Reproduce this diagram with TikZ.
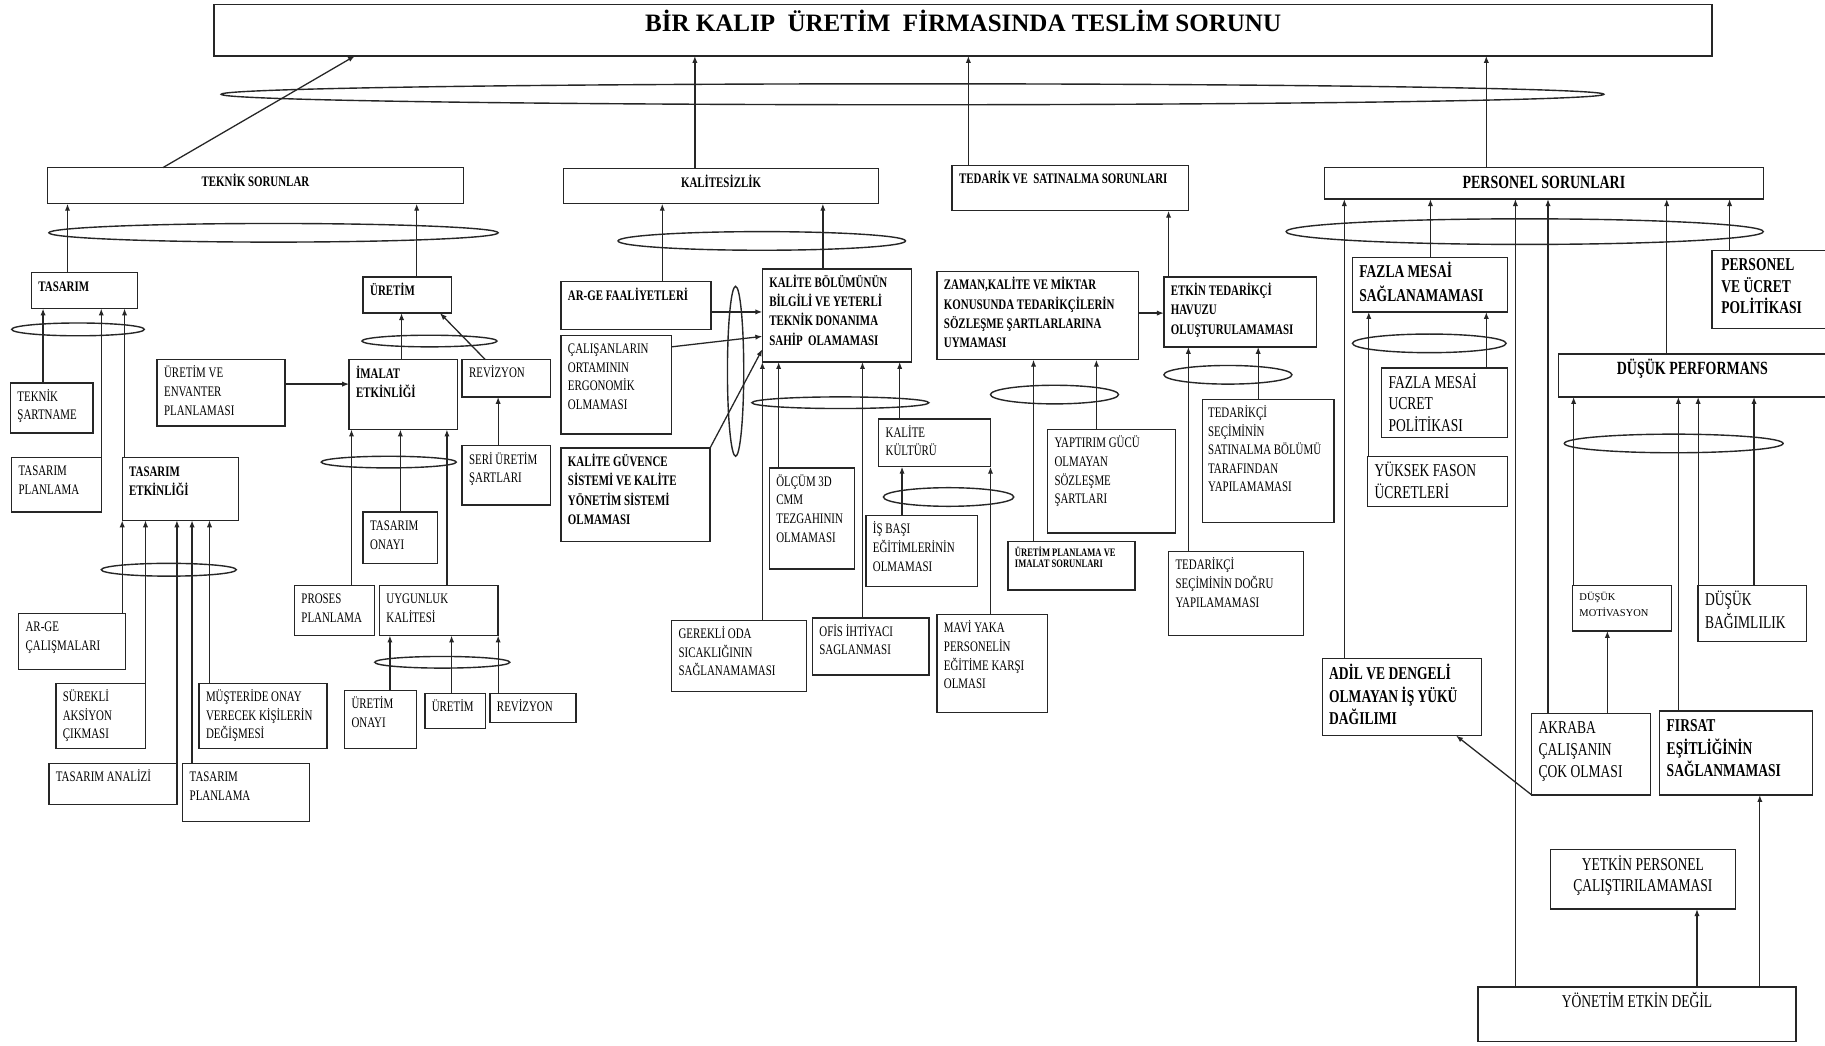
\documentclass[tikz,border=0pt]{standalone}
\usepackage{fontspec}
\setmainfont{Liberation Serif}
\newfontfamily\cnd{Liberation Serif}[FakeStretch=0.75]
\usetikzlibrary{shapes.geometric,arrows.meta}

% box with top-left aligned text, given by its corners (x1,y1) (x2,y2)
\newcommand\mybox[7][]{%
  \pgfmathsetmacro\bxw{#5-#3-12}%
  \pgfmathsetmacro\bxh{#6-#4-9}%
  \node[box,#1] (#2) at ({(#3+#5)/2},{(#4+#6)/2})
    {\parbox[c][\bxh pt][t]{\bxw pt}{\raggedright\strut#7}};}
% vertical arrow at abscissa #1 from the top of #2 to the bottom of #3
\newcommand\vup[3]{\draw[arr] (#2.north -| #1,0) -- (#3.south -| #1,0);}

\tikzset{
  box/.style={draw=black!85, line width=1.2pt, inner xsep=6pt, inner ysep=4.5pt,
    outer sep=0pt, font=\cnd\fontsize{12.5}{16}\selectfont},
  bb/.style={font=\cnd\bfseries\fontsize{12.5}{16.5}\selectfont},
  hd/.style={font=\cnd\bfseries\fontsize{16}{18.6}\selectfont},
  big/.style={font=\cnd\fontsize{15.5}{18.6}\selectfont},
  bigb/.style={font=\cnd\bfseries\fontsize{15.5}{18.6}\selectfont},
  tiny/.style={font=\cnd\bfseries\fontsize{9.8}{10}\selectfont},
  small/.style={font=\fontsize{9}{11.5}\selectfont},
  ttl/.style={font=\bfseries\fontsize{21.5}{25}\selectfont},
  ell/.style={draw=black!85, ellipse, line width=1.2pt, inner sep=0pt, outer sep=0pt},
  arr/.style={draw=black!85, line width=1.1pt, -{Latex[length=6pt,width=4.5pt]}}
}

\begin{document}
\begin{tikzpicture}[x=1pt,y=-1pt]
\clip (0,0) rectangle (1568,898);
\fill[white] (0,0) rectangle (1568,898);

% ---- top ----
\mybox[ttl]{T}{184}{4}{1471}{48}{\centering\vspace*{1pt}BİR KALIP\ \ ÜRETİM\ \ FİRMASINDA TESLİM SORUNU}
\node[ell, minimum width=1188pt, minimum height=18pt] (e0) at (784,81) {};

% ---- technical problems ----
\mybox[bb]{tek}{41}{144}{398}{175}{\centering TEKNİK SORUNLAR}
\node[ell, minimum width=386pt, minimum height=16pt] (eTek) at (235,200) {};
\mybox[bb]{tasarim}{27}{234}{118}{265}{TASARIM}
\mybox[bb]{uretim}{312}{238}{388}{269}{ÜRETİM}
\node[ell, minimum width=114pt, minimum height=11pt] (eTas) at (67,283) {};
\node[ell, minimum width=116pt, minimum height=10pt] (eUre) at (369,293) {};
\mybox{teksart}{9}{329}{80}{372}{TEKNİK\\ŞARTNAME}
\mybox{tasplan}{10}{393}{87}{440}{TASARIM\\PLANLAMA}
\mybox[bb]{taset}{105}{393}{205}{447}{TASARIM\\ETKİNLİĞİ}
\mybox{envanter}{135}{309}{245}{366}{ÜRETİM VE\\ENVANTER\\PLANLAMASI}
\mybox[bb]{imalat}{300}{309}{393}{369}{İMALAT\\ETKİNLİĞİ}
\mybox{rev1}{397}{309}{473}{341}{REVİZYON}
\mybox{seri}{397}{383}{473}{434}{SERİ ÜRETİM\\ŞARTLARI}
\node[ell, minimum width=116pt, minimum height=10pt] (eIma) at (334,397) {};
\mybox{tasonay}{312}{440}{376}{484}{TASARIM\\ONAYI}
\mybox{proses}{253}{503}{322}{546}{PROSES\\PLANLAMA}
\mybox{uygun}{326}{503}{428}{546}{UYGUNLUK\\KALİTESİ}
\node[ell, minimum width=116pt, minimum height=10pt] (eUyg) at (380,569) {};
\mybox{uonay}{296}{593}{358}{643}{ÜRETİM\\ONAYI}
\mybox{uretimb}{365}{596}{417}{626}{ÜRETİM}
\mybox{revb}{421}{596}{495}{621}{REVİZYON}
\node[ell, minimum width=116pt, minimum height=11pt] (eTe) at (145,489.5) {};
\mybox{arge}{16}{527}{108}{575}{AR-GE\\ÇALIŞMALARI}
\mybox{surekli}{48}{587}{125}{643}{SÜREKLİ\\AKSİYON\\ÇIKMASI}
\mybox{musteri}{171}{587}{281}{643}{MÜŞTERİDE ONAY\\VERECEK KİŞİLERİN\\DEĞİŞMESİ}
\mybox{tasanaliz}{42}{656}{152}{691}{TASARIM ANALİZİ}
\mybox{tasplanb}{157}{656}{266}{706}{TASARIM\\PLANLAMA}

% ---- quality ----
\mybox[bb]{kal}{484}{145}{755}{175}{\centering KALİTESİZLİK}
\node[ell, minimum width=247pt, minimum height=16pt] (eKal) at (654.5,207) {};
\mybox[bb]{argef}{482}{242}{611}{283}{AR-GE FAALİYETLERİ}
\mybox{calis}{482}{288}{577}{373}{ÇALIŞANLARIN\\ORTAMININ\\ERGONOMİK\\OLMAMASI}
\mybox[bb]{kguv}{482}{385}{610}{465}{KALİTE GÜVENCE\\SİSTEMİ VE KALİTE\\YÖNETİM SİSTEMİ\\OLMAMASI}
\node[ell, minimum width=14pt, minimum height=146pt] (eVer) at (632,319) {};
\mybox[bb]{kbol}{655}{231}{783}{311}{KALİTE BÖLÜMÜNÜN\\BİLGİLİ VE YETERLİ\\TEKNİK DONANIMA\\SAHİP\ \ OLAMAMASI}
\node[ell, minimum width=152pt, minimum height=10pt] (eKb) at (722,346) {};
\mybox{olcum}{661}{402}{734}{489}{ÖLÇÜM 3D\\CMM\\TEZGAHININ\\OLMAMASI}
\mybox{kkul}{755}{360}{851}{401}{KALİTE\\KÜLTÜRÜ}
\node[ell, minimum width=112pt, minimum height=16pt] (eKk) at (815,427) {};
\mybox{isbasi}{744}{443}{840}{504}{İŞ BAŞI\\EĞİTİMLERİNİN\\OLMAMASI}
\mybox{gerekli}{577}{533}{693}{594}{GEREKLİ ODA\\SICAKLIĞININ\\SAĞLANAMAMASI}
\mybox{ofis}{698}{531}{798}{580}{OFİS İHTİYACI\\SAGLANMASI}
\mybox{mavi}{805}{528}{900}{612}{MAVİ YAKA\\PERSONELİN\\EĞİTİME KARŞI\\OLMASI}

% ---- supply ----
\mybox[bb]{ted}{818}{142}{1021}{181}{TEDARİK VE\ \ SATINALMA SORUNLARI}
\mybox[bb]{zaman}{805}{233}{978}{309}{ZAMAN,KALİTE VE MİKTAR\\KONUSUNDA TEDARİKÇİLERİN\\SÖZLEŞME ŞARTLARLARINA\\UYMAMASI}
\mybox[bb]{etkin}{1000}{238}{1131}{298}{ETKİN TEDARİKÇİ\\HAVUZU\\OLUŞTURULAMAMASI}
\node[ell, minimum width=110pt, minimum height=16pt] (eZam) at (906,339) {};
\node[ell, minimum width=110pt, minimum height=16pt] (eEtk) at (1055,322) {};
\mybox{yaptirim}{900}{369}{1010}{458}{YAPTIRIM GÜCÜ\\OLMAYAN\\SÖZLEŞME\\ŞARTLARI}
\mybox[tiny]{uplan}{866}{465}{975}{507}{ÜRETİM PLANLAMA VE\\IMALAT SORUNLARI}
\mybox[inner xsep=5pt]{tsatin}{1032}{343}{1147}{449}{TEDARİKÇİ\\SEÇİMİNİN\\SATINALMA BÖLÜMÜ\\TARAFINDAN\\YAPILAMAMASI}
\mybox{tdogru}{1004}{474}{1120}{546}{TEDARİKÇİ\\SEÇİMİNİN DOĞRU\\YAPILAMAMASI}

% ---- personnel ----
\mybox[hd]{ps}{1138}{144}{1515}{171}{\centering\vspace*{-2pt}PERSONEL SORUNLARI}
\node[ell, minimum width=410pt, minimum height=22pt] (ePs) at (1310,199) {};
\mybox[bigb]{fms}{1162}{221}{1295}{268}{FAZLA MESAİ\\SAĞLANAMAMASI}
\mybox[bigb]{puc}{1471}{215}{1578}{282}{\hspace*{2pt}PERSONEL\\\hspace*{2pt}VE ÜCRET\\\hspace*{2pt}POLİTİKASI}
\node[ell, minimum width=132pt, minimum height=16pt] (eFms) at (1228,295) {};
\mybox[big]{fmu}{1187}{316}{1295}{376}{FAZLA MESAİ\\UCRET\\POLİTİKASI}
\mybox[big]{yuksek}{1175}{392}{1295}{435}{YÜKSEK FASON\\ÜCRETLERİ}
\mybox[hd]{dp}{1339}{304}{1569}{341}{\centering DÜŞÜK PERFORMANS}
\node[ell, minimum width=188pt, minimum height=16pt] (eDp) at (1438,381) {};
\mybox[small]{dmot}{1351}{503}{1436}{542}{\vspace*{3pt}DÜŞÜK\\MOTİVASYON}
\mybox[big]{dbag}{1459}{503}{1552}{551}{DÜŞÜK\\BAĞIMLILIK}
\mybox[bigb]{adil}{1136}{566}{1273}{632}{ADİL VE DENGELİ\\OLMAYAN İŞ YÜKÜ\\DAĞILIMI}
\mybox[big]{akraba}{1316}{613}{1418}{683}{AKRABA\\ÇALIŞANIN\\ÇOK OLMASI}
\mybox[bigb]{firsat}{1426}{611}{1557}{683}{FIRSAT\\EŞİTLİĞİNİN\\SAĞLANMAMASI}
\mybox[big]{yetkin}{1332}{730}{1491}{781}{\centering YETKİN PERSONEL\\ÇALIŞTIRILAMAMASI}
\mybox[big]{yonetim}{1270}{848}{1543}{895}{\centering YÖNETİM ETKİN DEĞİL}

% ---- connectors ----
\draw[arr] (kal.north -| 597,0) -- (T.south -| 597,0);
\draw[arr] (ted.north -| 832,0) -- (T.south -| 832,0);
\draw[arr] (ps.north -| 1277,0) -- (T.south -| 1277,0);
\draw[arr] (tek.north -| 140,0) -- (T.south -| 305,0);

\vup{58}{tasarim}{tek}
\vup{358}{uretim}{tek}
\vup{37}{teksart}{tasarim}
\vup{87}{tasplan}{tasarim}
\vup{107}{taset}{tasarim}
\vup{345}{imalat}{uretim}
\draw[arr] (rev1.north -| 417,0) -- (uretim.south -| 378,0);
\draw[arr] (envanter.east |- 0,330) -- (imalat.west |- 0,330);
\vup{302}{proses}{imalat}
\vup{344}{tasonay}{imalat}
\vup{384}{uygun}{imalat}
\vup{428}{seri}{rev1}
\vup{335}{uonay}{uygun}
\vup{388}{uretimb}{uygun}
\vup{428}{revb}{uygun}
\vup{105}{arge}{taset}
\vup{125}{surekli}{taset}
\vup{152}{tasanaliz}{taset}
\vup{165}{tasplanb}{taset}
\vup{180}{musteri}{taset}

\vup{569}{argef}{kal}
\vup{707}{kbol}{kal}
\draw[arr] (argef.east |- 0,268) -- (kbol.west |- 0,268);
\draw[arr] (calis.east |- 0,298) -- (kbol.west |- 0,289);
\draw[arr] (kguv.north east) -- (kbol.west |- 0,300);
\vup{655}{gerekli}{kbol}
\vup{669}{olcum}{kbol}
\vup{741}{ofis}{kbol}
\vup{773}{kkul}{kbol}
\vup{775}{isbasi}{kkul}
\vup{851}{mavi}{kkul}

\vup{1004}{etkin}{ted}
\draw[arr] (zaman.east |- 0,269) -- (etkin.west |- 0,269);
\vup{888}{uplan}{zaman}
\vup{942}{yaptirim}{zaman}
\vup{1021}{tdogru}{etkin}
\vup{1081}{tsatin}{etkin}

\vup{1155}{adil}{ps}
\vup{1229}{fms}{ps}
\vup{1302}{yonetim}{ps}
\vup{1330}{akraba}{ps}
\vup{1432}{dp}{ps}
\vup{1486}{puc}{ps}
\vup{1176}{yuksek}{fms}
\vup{1277}{fmu}{fms}
\vup{1352}{dmot}{dp}
\vup{1442}{firsat}{dp}
\vup{1459}{dbag}{dp}
\vup{1507}{dbag}{dp}
\vup{1381}{akraba}{dmot}
\draw[arr] (akraba.south west) -- (adil.south -| 1251,0);
\vup{1458}{yonetim}{yetkin}
\vup{1512}{yonetim}{firsat}
\end{tikzpicture}
\end{document}
